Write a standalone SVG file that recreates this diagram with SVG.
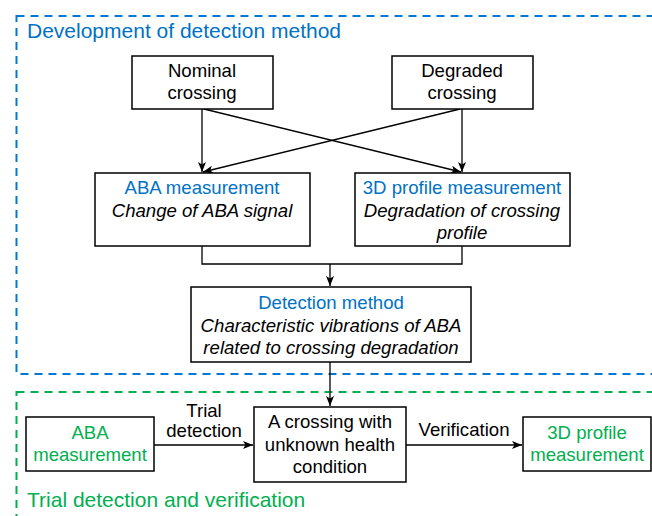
<svg xmlns="http://www.w3.org/2000/svg" width="652" height="516" viewBox="0 0 652 516">
<style>
text{font-family:"Liberation Sans",Arial,sans-serif;font-size:18.6px;text-anchor:middle;fill:#000}
.blue{fill:#0072C6}
.green{fill:#00B050}
.it{font-style:italic}
.title{text-anchor:start;font-size:21px}
.box{fill:#fff;stroke:#000;stroke-width:1.5}
.conn{fill:none;stroke:#000;stroke-width:1.3}
</style>
<defs>
<marker id="ah" markerUnits="userSpaceOnUse" markerWidth="12" markerHeight="10" refX="10" refY="4" orient="auto">
<path d="M0,0 L10,4 L0,8 L2.5,4 z" fill="#000"/>
</marker>
</defs>
<g id="group-development">
<rect x="16.5" y="16" width="660" height="358" fill="none" stroke="#0078D4" stroke-width="2" stroke-dasharray="8 6"/>
<text class="title blue" x="27" y="38">Development of detection method</text>
</g>
<g id="group-trial">
<rect x="16.5" y="392" width="660" height="140" fill="none" stroke="#00B050" stroke-width="2" stroke-dasharray="8 6"/>
<text class="title green" x="27" y="507">Trial detection and verification</text>
</g>
<g id="connectors">
<line class="conn" x1="202" y1="109" x2="202" y2="172" marker-end="url(#ah)"/>
<line class="conn" x1="204" y1="109" x2="461" y2="172" marker-end="url(#ah)"/>
<line class="conn" x1="462" y1="109" x2="462" y2="172" marker-end="url(#ah)"/>
<line class="conn" x1="460" y1="109" x2="203" y2="172" marker-end="url(#ah)"/>
<polyline class="conn" points="202,246 202,264 462,264 462,246"/>
<line class="conn" x1="330" y1="264" x2="330" y2="286" marker-end="url(#ah)"/>
<line class="conn" x1="330" y1="362" x2="330" y2="406" marker-end="url(#ah)"/>
<line class="conn" x1="154" y1="445" x2="253" y2="445" marker-end="url(#ah)"/>
<line class="conn" x1="406" y1="445" x2="522" y2="445" marker-end="url(#ah)"/>
<text x="204" y="417">Trial</text>
<text x="204" y="437">detection</text>
<text x="464" y="436">Verification</text>
</g>
<g id="node-nominal">
<rect class="box" x="132" y="56" width="141" height="53"/>
<text x="202" y="77">Nominal</text>
<text x="202" y="99">crossing</text>
</g>
<g id="node-degraded">
<rect class="box" x="392" y="56" width="141" height="53"/>
<text x="462" y="77">Degraded</text>
<text x="462" y="99">crossing</text>
</g>
<g id="node-aba">
<rect class="box" x="95" y="173" width="215" height="73"/>
<text class="blue" x="202" y="194">ABA measurement</text>
<text class="it" x="202" y="217">Change of ABA signal</text>
</g>
<g id="node-3d">
<rect class="box" x="355" y="173" width="215" height="73"/>
<text class="blue" x="462" y="194">3D profile measurement</text>
<text class="it" x="462" y="217">Degradation of crossing</text>
<text class="it" x="462" y="239">profile</text>
</g>
<g id="node-detection">
<rect class="box" x="191" y="287" width="280" height="75"/>
<text class="blue" x="331" y="309">Detection method</text>
<text class="it" x="331" y="332">Characteristic vibrations of ABA</text>
<text class="it" x="331" y="354">related to crossing degradation</text>
</g>
<g id="node-crossing">
<rect class="box" x="254" y="407" width="152" height="75"/>
<text x="330" y="428">A crossing with</text>
<text x="330" y="451">unknown health</text>
<text x="330" y="473">condition</text>
</g>
<g id="node-aba2">
<rect class="box" x="26" y="417" width="128" height="54"/>
<text class="green" x="90" y="439">ABA</text>
<text class="green" x="90" y="461">measurement</text>
</g>
<g id="node-3d2">
<rect class="box" x="523" y="417" width="128" height="54"/>
<text class="green" x="587" y="439">3D profile</text>
<text class="green" x="587" y="461">measurement</text>
</g>
</svg>
